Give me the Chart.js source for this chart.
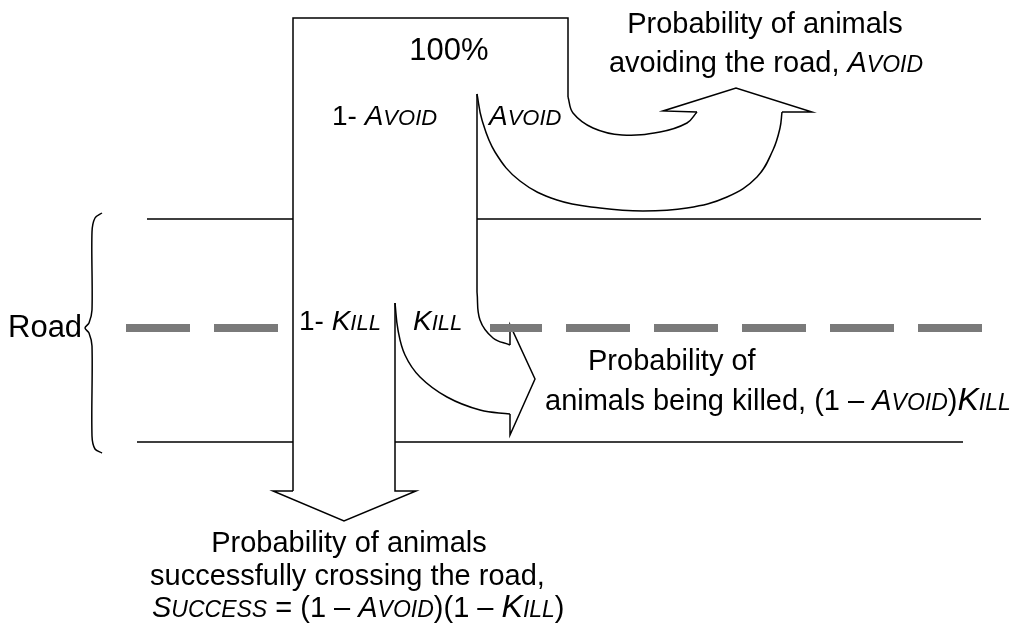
<!DOCTYPE html>
<html lang="en">
<head>
    <meta charset="UTF-8">
    <title>Road crossing probabilities</title>
    <script src="https://cdn.jsdelivr.net/npm/chart.js"></script>
    <style>
        body { margin: 0; background: #fff; }
        canvas { display: block; }
    </style>
</head>
<body>
    <canvas id="diagram" width="1021" height="631"></canvas>

    <script>
        // Shape outlines (x, y in pixel units of the 1021x631 frame)
        const outerArrowLeft = [[293, 491], [293, 18], [568, 18], [568, 97]];
        const avoidInnerCurve = [[568, 97], [573, 113], [593, 128], [622, 135], [660, 132], [687, 123], [697, 112]];
        const avoidHead = [[697, 112], [663, 111], [736, 88], [812, 112], [782, 112]];
        const avoidOuterCurve = [[782, 112], [780, 128], [773, 150], [757, 177], [727, 197], [687, 208], [643, 211], [600, 208], [557, 200], [520, 181], [495, 152], [482, 120], [477, 94]];
        const innerStem = [[477, 94], [477, 292]];
        const killInnerCurve = [[477, 292], [480, 320], [493, 338], [510, 345]];
        const killHead = [[510, 345], [510, 325], [535, 379], [510, 435], [510, 414]];
        const killOuterCurve = [[510, 414], [480, 410], [447, 397], [420, 377], [405, 355], [398, 330], [395, 303]];
        const successStem = [[395, 303], [395, 491], [416, 491], [344, 521], [273, 491], [293, 491]];

        const roadTop = [[147, 219], [293, 219], null, [477, 219], [981, 219]];
        const roadBottom = [[137, 442], [293, 442], null, [395, 442], [963, 442]];
        const centreDashes = [[126, 190], [214, 278], [490, 542], [566, 630], [654, 718], [742, 806], [830, 894], [918, 982]];
        const centreY = 328;
        const brace = [[102, 213], [95, 218], [92, 232], [92, 310], [89, 323], [85, 328], [89, 333], [92, 346], [92, 436], [95, 449], [102, 453]];

        const toPts = arr => arr.map(p => p ? { x: p[0], y: p[1] } : { x: null, y: null });
        const dashPts = [];
        centreDashes.forEach(d => {
            dashPts.push({ x: d[0], y: centreY }, { x: d[1], y: centreY }, { x: null, y: null });
        });

        function line(points, tension) {
            return {
                data: toPts(points),
                showLine: true,
                borderColor: '#000',
                borderWidth: 1.5,
                pointRadius: 0,
                tension: tension || 0,
                spanGaps: false
            };
        }

        const datasets = [
            Object.assign(line([]), { data: dashPts, borderColor: '#7a7a7a', borderWidth: 8 }),
            line(roadTop),
            line(roadBottom),
            line(outerArrowLeft),
            line(avoidInnerCurve, 0.4),
            line(avoidHead),
            line(avoidOuterCurve, 0.4),
            line(innerStem),
            line(killInnerCurve, 0.4),
            line(killHead),
            line(killOuterCurve, 0.4),
            line(successStem),
            line(brace, 0.3)
        ];

        // Text labels: parts are [text, style]; n = normal, i = italic, s = italic small caps, k = large italic cap
        const FONT = '"Liberation Sans", Arial, sans-serif';
        const labels = [
            { x: 449, y: 60, size: 31, align: 'center', parts: [['100%', 'n']] },
            { x: 332, y: 125, size: 28, parts: [['1- ', 'n'], ['A', 'i'], ['VOID', 's']] },
            { x: 489, y: 125, size: 28, parts: [['A', 'i'], ['VOID', 's']] },
            { x: 299, y: 330, size: 28, parts: [['1- ', 'n'], ['K', 'i'], ['ILL', 's']] },
            { x: 413, y: 330, size: 28, parts: [['K', 'i'], ['ILL', 's']] },
            { x: 8, y: 337, size: 31, parts: [['Road', 'n']] },
            { x: 765, y: 33, size: 29, align: 'center', parts: [['Probability of animals', 'n']] },
            { x: 766, y: 72, size: 29, align: 'center', parts: [['avoiding the road, ', 'n'], ['A', 'i'], ['VOID', 's']] },
            { x: 588, y: 370, size: 29, parts: [['Probability of', 'n']] },
            { x: 545, y: 410, size: 29, parts: [['animals being killed, (1 \u2013 ', 'n'], ['A', 'i'], ['VOID', 's'], [')', 'n'], ['K', 'k'], ['ILL', 's']] },
            { x: 349, y: 552, size: 29, align: 'center', parts: [['Probability of animals', 'n']] },
            { x: 150, y: 585, size: 29, parts: [['successfully crossing the road,', 'n']] },
            { x: 152, y: 617, size: 29, parts: [['S', 'i'], ['UCCESS', 's'], [' = (1 \u2013 ', 'n'], ['A', 'i'], ['VOID', 's'], [')(1 \u2013 ', 'n'], ['K', 'k'], ['ILL', 's'], [')', 'n']] }
        ];

        function fontFor(style, size) {
            if (style === 'i') return 'italic ' + size + 'px ' + FONT;
            if (style === 's') return 'italic ' + Math.round(size * 0.78) + 'px ' + FONT;
            if (style === 'k') return 'italic ' + Math.round(size * 1.12) + 'px ' + FONT;
            return size + 'px ' + FONT;
        }

        const textPlugin = {
            id: 'diagramText',
            afterDraw(chart) {
                const ctx = chart.ctx;
                ctx.save();
                ctx.fillStyle = '#000';
                ctx.textBaseline = 'alphabetic';
                ctx.textAlign = 'left';
                labels.forEach(l => {
                    let total = 0;
                    const widths = l.parts.map(p => {
                        ctx.font = fontFor(p[1], l.size);
                        const w = ctx.measureText(p[0]).width;
                        total += w;
                        return w;
                    });
                    let x = l.align === 'center' ? l.x - total / 2 : l.x;
                    l.parts.forEach((p, i) => {
                        ctx.font = fontFor(p[1], l.size);
                        ctx.fillText(p[0], x, l.y);
                        x += widths[i];
                    });
                });
                ctx.restore();
            }
        };

        new Chart(document.getElementById('diagram'), {
            type: 'scatter',
            data: { datasets: datasets },
            options: {
                responsive: false,
                animation: false,
                layout: { padding: 0 },
                plugins: { legend: { display: false }, tooltip: { enabled: false } },
                scales: {
                    x: { type: 'linear', min: 0, max: 1021, display: false },
                    y: { type: 'linear', min: 0, max: 631, reverse: true, display: false }
                }
            },
            plugins: [textPlugin]
        });
    </script>
</body>
</html>
